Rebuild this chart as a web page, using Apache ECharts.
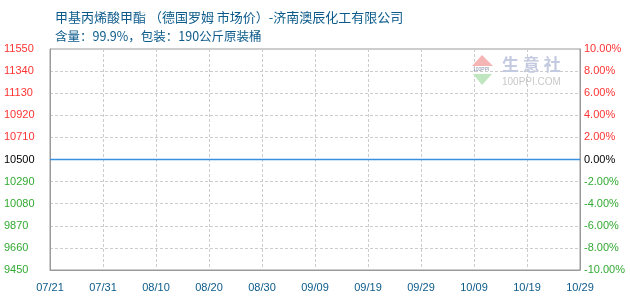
<!DOCTYPE html>
<html><head><meta charset="utf-8">
<script src="https://cdn.jsdelivr.net/npm/echarts@6/dist/echarts.min.js"></script>
<style>html,body{margin:0;padding:0;background:#fff}#c{width:630px;height:300px}</style>
</head><body><div id="c"></div>
<script>
const titleText = '甲基丙烯酸甲酯 （德国罗姆 市场价）-济南澳辰化工有限公司';
const subtitleText = '含量：99.9%，包装：190公斤原装桶';
const xTickLabels = ['07/21','07/31','08/10','08/20','08/30','09/09','09/19','09/29','10/09','10/19','10/29'];
const startDate = '2025-07-21';
const endDate = '2025-10-29';
const priceDates = ['2025-07-21','2025-08-01','2025-08-15','2025-09-01','2025-09-15','2025-10-01','2025-10-15','2025-10-29'];
const priceValues = [10500,10500,10500,10500,10500,10500,10500,10500];
const basePrice = 10500;
const leftMin = 9450, leftMax = 11550, leftInterval = 210;
const pctMin = -10, pctMax = 10, pctInterval = 2;

const dayMs = 86400000;
const t0 = Date.parse(startDate);
const dayIndex = d => Math.round((Date.parse(d) - t0) / dayMs);
const totalDays = dayIndex(endDate);
const lineData = priceDates.map((d, i) => [dayIndex(d), priceValues[i]]);

const chart = echarts.init(document.getElementById('c'));
const lblFont = 'Liberation Sans, Arial, sans-serif';
chart.setOption({
  animation: false,
  title: [
    {text: titleText, left: 50, top: 6, textStyle: {fontSize: 13, fontWeight: 'normal', color: '#0b5a8a', fontFamily: 'Noto Sans CJK SC'}},
    {text: subtitleText, left: 50, top: 25, textStyle: {fontSize: 12.5, fontWeight: 'normal', color: '#0b5a8a', fontFamily: 'Noto Sans CJK SC'}}
  ],
  grid: {left: 50, right: 50, top: 49, bottom: 30, show: true, borderColor: '#9a9a9a', borderWidth: 1, containLabel: false},
  xAxis: {
    type: 'value', min: 0, max: totalDays, interval: 10,
    axisLine: {show: true, onZero: false, lineStyle: {color: '#9a9a9a'}},
    axisTick: {show: false},
    splitLine: {show: true, lineStyle: {color: '#cccccc', type: [3, 2]}},
    axisLabel: {margin: 12, fontSize: 11, fontFamily: lblFont, color: '#0b5a8a',
      formatter: v => xTickLabels[Math.round(v / 10)] || ''}
  },
  yAxis: [
    {
      type: 'value', min: leftMin, max: leftMax, interval: leftInterval,
      axisLine: {show: true, onZero: false, lineStyle: {color: '#9a9a9a'}},
      axisTick: {show: false},
      splitLine: {show: true, lineStyle: {color: '#cccccc', type: [3, 2]}},
      axisLabel: {align: 'left', margin: 46, fontSize: 11, fontFamily: lblFont,
        formatter: v => String(v),
        color: v => v > basePrice ? '#ff3333' : (v < basePrice ? '#33aa33' : '#000000')}
    },
    {
      type: 'value', min: pctMin, max: pctMax, interval: pctInterval,
      axisLine: {show: true, onZero: false, lineStyle: {color: '#9a9a9a'}},
      axisTick: {show: false},
      splitLine: {show: false},
      axisLabel: {align: 'left', margin: 4, fontSize: 11, fontFamily: lblFont,
        formatter: v => v.toFixed(2) + '%',
        color: v => v > 0 ? '#ff3333' : (v < 0 ? '#33aa33' : '#000000')}
    }
  ],
  graphic: [
    {type: 'polygon', shape: {points: [[482, 55], [472, 66], [493, 66]]}, style: {fill: '#f5b5b5'}, z: 1},
    {type: 'polygon', shape: {points: [[473, 74], [492, 74], [482, 85]]}, style: {fill: '#bfe6bf'}, z: 1},
    {type: 'text', left: 473, top: 67, style: {text: '100PPI', fontSize: 5, fill: '#8890a8'}, z: 1},
    {type: 'text', left: 502, top: 56, style: {text: '生 意 社', fontSize: 17, fontWeight: 'bold', fill: '#c4cbe0', fontFamily: 'Noto Sans CJK SC'}, z: 1},
    {type: 'text', left: 502, top: 77, style: {text: '100PPI.COM', fontSize: 10, fill: '#c8c8c8', fontFamily: lblFont}, z: 1}
  ],
  series: [{
    type: 'line', data: lineData, yAxisIndex: 0, showSymbol: false,
    itemStyle: {color: '#3a90e0'},
    lineStyle: {color: '#3a90e0', width: 1.5}, z: 10
  }]
});
</script></body></html>
